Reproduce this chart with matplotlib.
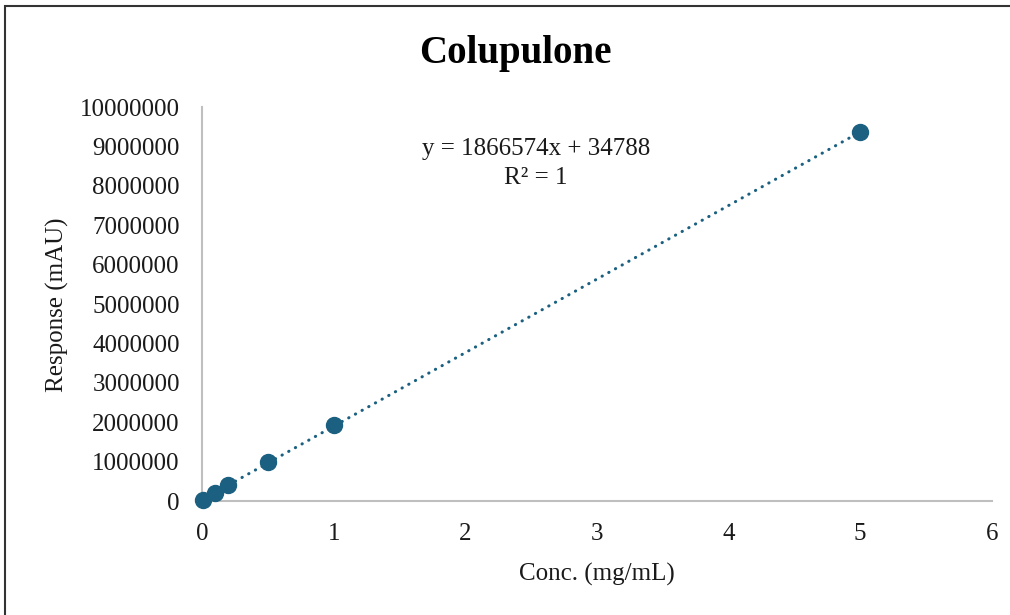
import numpy as np
from matplotlib import pyplot as plt
from matplotlib.patches import Rectangle

conc = [0.01, 0.1, 0.2, 0.5, 1.0, 5.0]
response = [30000, 220000, 405000, 985000, 1930000, 9360000]
slope = 1866574
intercept = 34788
x_ticks = [0, 1, 2, 3, 4, 5, 6]
y_ticks = list(range(0, 10000001, 1000000))

color = '#1b6080'
spine_color = '#bfbfbf'

plt.rcParams['font.family'] = ['Liberation Serif', 'DejaVu Serif']

fig = plt.figure(figsize=(10.1, 6.15), dpi=100)
ax = fig.add_axes([0.2, 0.185, 0.782, 0.641])

# trendline from the fit
fit_x = np.array([0.0, max(conc)])
ax.plot(fit_x, slope * fit_x + intercept, color=color, linewidth=2.2,
        linestyle=(0, (0.1, 2.4)), dash_capstyle='round', zorder=2)
ax.plot(conc, response, 'o', color=color, markersize=11.5, zorder=3, clip_on=False)

ax.set_xlim(0, 6)
ax.set_ylim(0, 10000000)
ax.set_xticks(x_ticks)
ax.set_yticks(y_ticks)
ax.set_yticklabels([str(v) for v in y_ticks])
ax.tick_params(length=0, labelsize=18, colors='#1a1a1a')
ax.tick_params(axis='y', pad=16)
ax.tick_params(axis='x', pad=16)

for side in ('top', 'right'):
    ax.spines[side].set_visible(False)
for side in ('left', 'bottom'):
    ax.spines[side].set_color(spine_color)
    ax.spines[side].set_linewidth(1.5)

fig.text(515 / 1010, 1 - 53 / 615, 'Colupulone', ha='center', va='center',
         fontsize=28, fontweight='bold')
fig.text(536 / 1010, 1 - 149 / 615, 'y = 1866574x + 34788', ha='center', va='center',
         fontsize=18, color='#1a1a1a')
fig.text(536 / 1010, 1 - 178 / 615, 'R² = 1', ha='center', va='center',
         fontsize=18, color='#1a1a1a')
fig.text(597 / 1010, 1 - 574 / 615, 'Conc. (mg/mL)', ha='center', va='center',
         fontsize=18, color='#1a1a1a')
fig.text(57 / 1010, 1 - 305 / 615, 'Response (mAU)', ha='center', va='center',
         fontsize=18, rotation=90, color='#1a1a1a')

# outer frame, only left and top edges are visible in the crop
fig.patches.append(Rectangle((5 / 1010, -0.1), 1.2, 1 - 6 / 615 + 0.1,
                             transform=fig.transFigure, fill=False,
                             edgecolor='#333333', linewidth=1.5))

fig.savefig('out.png', dpi=100)
